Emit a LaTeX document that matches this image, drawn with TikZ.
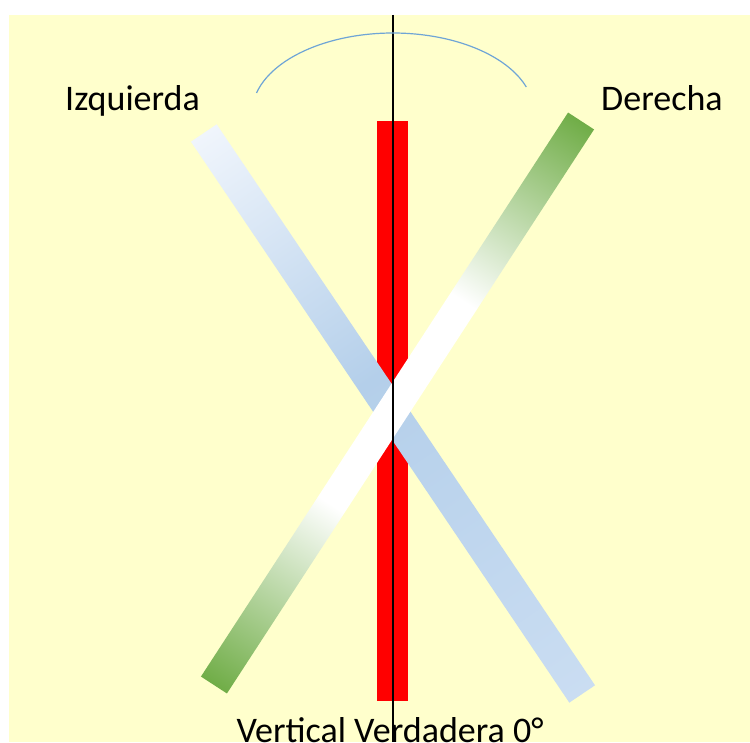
\documentclass[tikz,border=0pt]{standalone}
\usepackage{fontspec}
\setmainfont{Carlito}
\definecolor{bgyellow}{HTML}{FFFFCC}
\definecolor{barred}{HTML}{FF0000}
\definecolor{bluetop}{HTML}{F0F5FC}
\definecolor{bluemid}{HTML}{B4CFEA}
\definecolor{bluebot}{HTML}{CADDF2}
\definecolor{greenend}{HTML}{70AD47}
\definecolor{arcblue}{HTML}{6FA5D6}
\pgfdeclarehorizontalshading{bluebar}{100bp}{color(0bp)=(bluetop); color(25bp)=(bluetop); color(47bp)=(bluemid); color(75bp)=(bluebot); color(100bp)=(bluebot)}
\pgfdeclarehorizontalshading{greenbar}{100bp}{color(0bp)=(greenend); color(25bp)=(greenend); color(41bp)=(white); color(59bp)=(white); color(75bp)=(greenend); color(100bp)=(greenend)}
\tikzset{
  label text/.style={inner sep=0pt, font=\fontsize{36}{43}\selectfont, text=black},
  vline/.style={draw=black, line width=1.2pt},
  arcline/.style={draw=arcblue, line width=1.2pt},
}
\begin{document}
\begin{tikzpicture}[x=1pt,y=1pt]
\clip (0,0) rectangle (750,742);
\fill[white] (0,0) rectangle (750,742);
% background
\fill[bgyellow] (9,0) rectangle (750,727);
% red vertical bar
\fill[barred] (376.5,41) rectangle (408.3,621);
% blue bar (Izquierda)
\begin{scope}[transform canvas={shift={(393,328.5)}, rotate=-56.0}]
  \shade[shading=bluebar] (-338.3,-15.5) rectangle (338.3,15.5);
\end{scope}
% green bar (Derecha)
\begin{scope}[transform canvas={shift={(397.5,339)}, rotate=56.94}]
  \shade[shading=greenbar] (-336.5,-15.5) rectangle (336.5,15.5);
\end{scope}
% true vertical line
\coordinate (vtop) at (393,727);
\coordinate (vbot) at (393,0);
\draw[vline] (vtop) -- (vbot);
% arc
\coordinate (arcstart) at (256.5,649);
\draw[arcline] (arcstart) arc[start angle=165.5, end angle=19, x radius=141, y radius=80];
% labels
\node[label text, anchor=base west] (izq) at (65,631) {Izquierda};
\node[label text, anchor=base west] (der) at (601,631) {Derecha};
\node[label text, anchor=base] (vv) at (390,-1) {Vertical Verdadera 0°};
\end{tikzpicture}
\end{document}
